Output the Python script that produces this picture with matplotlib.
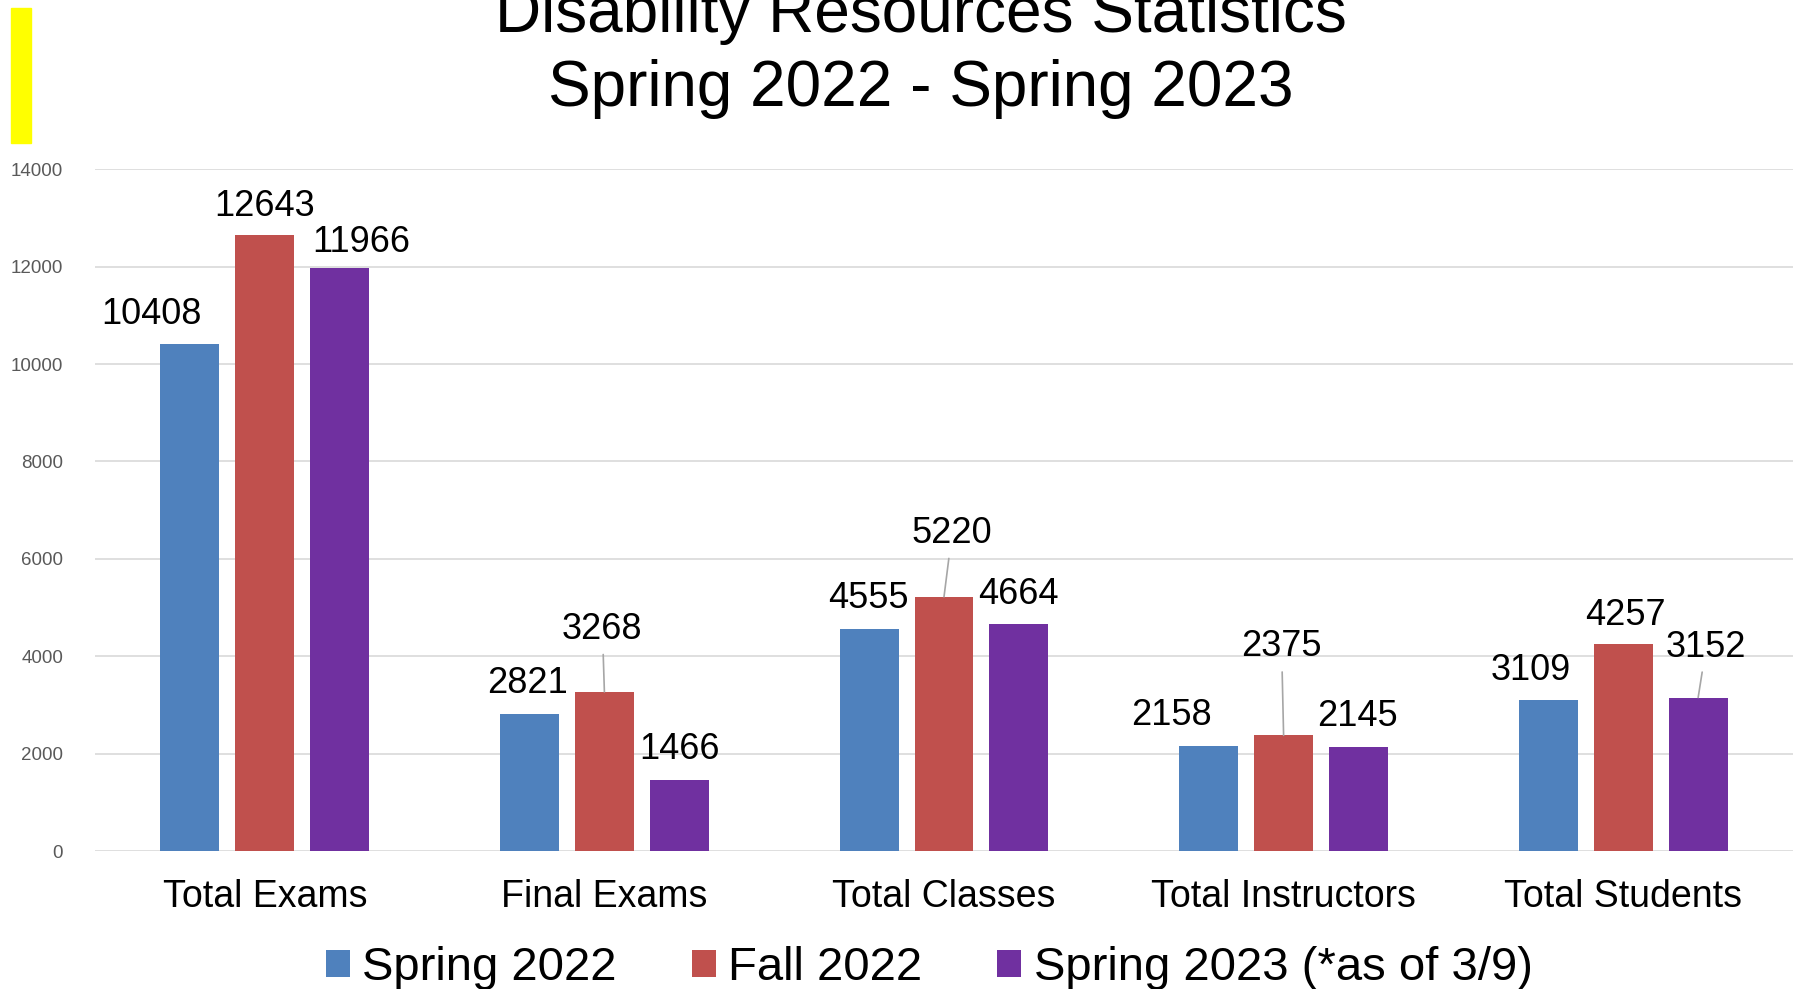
import numpy as np
import matplotlib.pyplot as plt
from matplotlib.patches import Rectangle

plt.rcParams['font.family'] = ['Liberation Sans', 'DejaVu Sans']

# data
categories = ['Total Exams', 'Final Exams', 'Total Classes', 'Total Instructors', 'Total Students']
series_names = ['Spring 2022', 'Fall 2022', 'Spring 2023 (*as of 3/9)']
spring22 = [10408, 2821, 4555, 2158, 3109]
fall22 = [12643, 3268, 5220, 2375, 4257]
spring23 = [11966, 1466, 4664, 2145, 3152]
yticks = [0, 2000, 4000, 6000, 8000, 10000, 12000, 14000]

colors = ['#4f81bd', '#c0504d', '#7030a0']

# label offsets in pixels (dx, dy above bar top), and which labels get a leader line
label_offsets = [
    [(-38, 20), (-2, 21), (-1, 21), (-37, 21), (-17, 20)],
    [(0, 19), (-2, 53), (8, 54), (-2, 79), (2, 19)],
    [(22, 16), (0, 21), (-1, 20), (-1, 21), (8, 41)],
]
leaders = [
    [False, False, False, False, False],
    [False, True, True, True, False],
    [False, False, False, False, True],
]

fig = plt.figure(figsize=(17.97, 9.89), dpi=100)
ax = fig.add_axes([95 / 1797, 1 - 851 / 989, 1698 / 1797, (851 - 169.3) / 989])

x = np.arange(len(categories))
step = 0.2207
width = 0.1736
all_series = [spring22, fall22, spring23]
for i, (vals, col, name) in enumerate(zip(all_series, colors, series_names)):
    xs = x + (i - 1) * step
    ax.bar(xs, vals, width=width, color=col, label=name, zorder=2)
    for j, v in enumerate(vals):
        dx, dy = label_offsets[i][j]
        kw = {}
        if leaders[i][j]:
            kw['arrowprops'] = dict(arrowstyle='-', color='#a6a6a6', lw=1.2,
                                    shrinkA=3.5, shrinkB=0)
        ax.annotate(str(v), xy=(xs[j], v), xytext=(dx, dy),
                    textcoords='offset pixels', ha='center', va='baseline',
                    fontsize=26, color='black', **kw)

ax.set_xlim(-0.5, 4.5)
ax.set_ylim(0, 14000)
ax.set_yticks(yticks)
ax.set_yticklabels([str(t) for t in yticks], fontsize=13.5, color='#595959')
ax.set_xticks(x)
ax.set_xticklabels(categories, fontsize=27, color='black')
ax.tick_params(axis='both', length=0)
ax.tick_params(axis='y', pad=23)
ax.tick_params(axis='x', pad=20.5)
ax.grid(axis='y', color='#d9d9d9', lw=1.2)
ax.set_axisbelow(True)
for s in ax.spines.values():
    s.set_visible(False)

# title
fig.text(921 / 1797, 1 - 32 / 989, 'Disability Resources Statistics', ha='center',
         va='baseline', fontsize=46)
fig.text(921 / 1797, 1 - 106 / 989, 'Spring 2022 - Spring 2023', ha='center',
         va='baseline', fontsize=46)

# yellow marker at top-left
fig.patches.append(Rectangle((11 / 1797, 1 - 143 / 989), 20 / 1797, 135 / 989,
                             transform=fig.transFigure, color='#ffff00'))

leg = fig.legend(loc='center', bbox_to_anchor=(929 / 1797, 1 - 968 / 989), ncol=3,
                 frameon=False, fontsize=34, handlelength=0.51, handleheight=0.51,
                 handletextpad=0.26, columnspacing=1.59, borderpad=0, borderaxespad=0)

fig.savefig('out.png', dpi=100)
